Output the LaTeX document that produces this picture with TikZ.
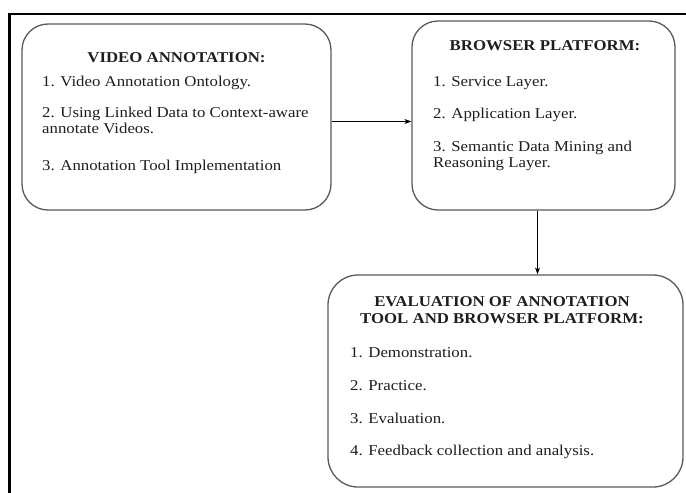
\documentclass[tikz,border=0pt]{standalone}
\usepackage{fontspec}
\setmainfont{Liberation Serif}[FakeStretch=1.12]
\usetikzlibrary{arrows.meta}
\definecolor{panelgray}{HTML}{5A5A5A}
\definecolor{textdark}{HTML}{1E1E1E}
\begin{document}
\begin{tikzpicture}[x=1pt,y=-1pt,
  panel/.style={draw=panelgray, line width=1.3pt, rounded corners=26pt, fill=white, inner sep=0pt},
  head/.style={font=\fontsize{15}{17}\selectfont\bfseries, anchor=base, align=center, text=textdark, inner sep=0pt},
  item/.style={font=\fontsize{15}{16}\selectfont, anchor=base west, align=left, text=textdark, inner sep=0pt},
  arr/.style={-{Stealth[length=7pt,width=5pt]}, line width=0.8pt, draw=black}]
\useasboundingbox (0,0) rectangle (686,493);
\fill[white] (0,0) rectangle (686,493);

% outer frame (open to the right and bottom)
\draw[line width=2.5pt] (9.5,493) -- (9.5,14) -- (686,14);

% panels
\node[panel, minimum width=309pt, minimum height=186pt] (video) at (176.5,117) {};
\node[panel, minimum width=263pt, minimum height=189pt] (browser) at (543.5,115.5) {};
\node[panel, minimum width=355pt, minimum height=212pt, rounded corners=30pt] (eval) at (505.5,381) {};

% video annotation (multi-line nodes sit on the baseline of their last line)
\node[head] (vt) at (176.5,62) {VIDEO ANNOTATION:};
\node[item] (v1) at (42,86) {1. Video Annotation Ontology.};
\node[item] (v2) at (42,133) {2. Using Linked Data to Context-aware\\annotate Videos.};
\node[item] (v3) at (42,170) {3. Annotation Tool Implementation};

% browser platform
\node[head] (bt) at (545,50) {BROWSER PLATFORM:};
\node[item] (b1) at (433,86) {1. Service Layer.};
\node[item] (b2) at (433,118) {2. Application Layer.};
\node[item] (b3) at (433,167) {3. Semantic Data Mining and\\Reasoning Layer.};

% evaluation
\node[head] (et) at (502,323) {EVALUATION OF ANNOTATION\\TOOL AND BROWSER PLATFORM:};
\node[item] (e1) at (350,357) {1. Demonstration.};
\node[item] (e2) at (350,390) {2. Practice.};
\node[item] (e3) at (350,423) {3. Evaluation.};
\node[item] (e4) at (350,455) {4. Feedback collection and analysis.};

% connectors
\coordinate (hrow) at (0,121.5);
\coordinate (vcol) at (537.5,0);
\draw[arr] (video.east |- hrow) -- (browser.west |- hrow);
\draw[arr] (browser.south -| vcol) -- (eval.north -| vcol);
\end{tikzpicture}
\end{document}
